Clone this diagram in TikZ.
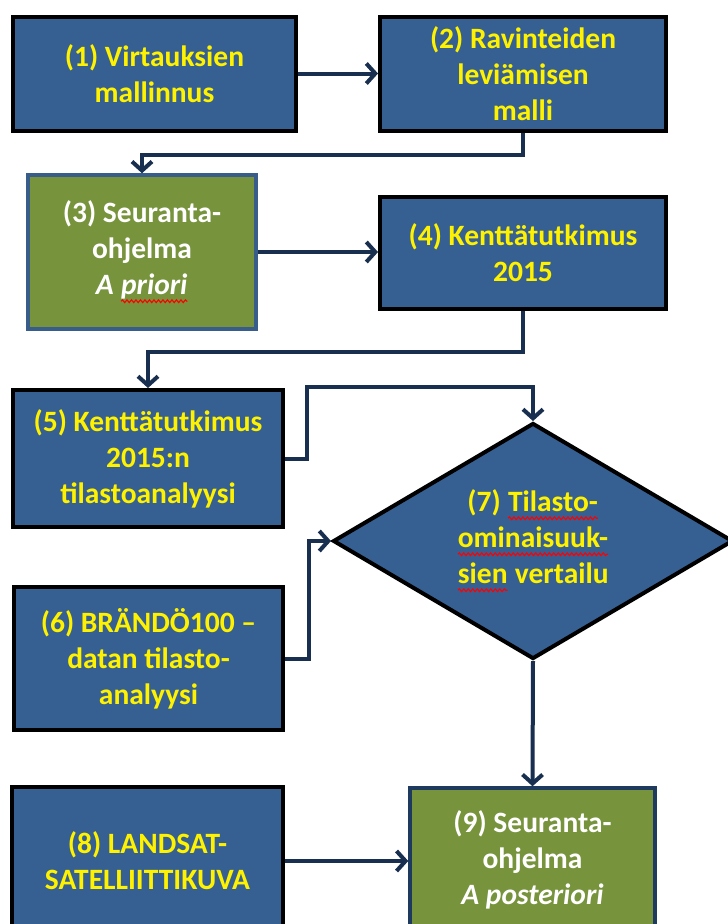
\documentclass[tikz,border=0pt]{standalone}
\usepackage{fontspec}
\setmainfont{Carlito}
\usetikzlibrary{shapes.geometric,arrows.meta,decorations.pathmorphing}
\definecolor{boxblue}{HTML}{376092}
\definecolor{boxgreen}{HTML}{77933C}
\definecolor{greenedge}{HTML}{385D8A}
\definecolor{greenedgeb}{HTML}{1F3A5F}
\definecolor{linknavy}{HTML}{182F50}
\newcommand\redwave[1]{\tikz[baseline=(wv.base)]{\node[rectangle,minimum width=0pt,minimum height=0pt,inner sep=0pt,outer sep=0pt,draw=none,fill=none,font=,align=left] (wv) {#1};
  \draw[red, line width=1.1pt, decorate, decoration={snake, amplitude=1.4pt, segment length=4.5pt}] ([yshift=-6.5pt]wv.base west) -- ([yshift=-6.5pt]wv.base east);}}
\begin{document}
\begin{tikzpicture}[x=1pt,y=-1pt,
  boxtext/.style={font=\bfseries\fontsize{29.5}{36}\selectfont, align=center, inner sep=0pt},
  bluebox/.style={boxtext, draw=black, line width=4pt, fill=boxblue, text=yellow},
  greenbox/.style={boxtext, draw=greenedge, line width=3.5pt, fill=boxgreen, text=white},
  link/.style={draw=linknavy, line width=4pt, -{Straight Barb[length=9pt,width=20pt]}}]
\useasboundingbox (0,0) rectangle (728,924);
\clip (0,0) rectangle (728,924);
\fill[white] (0,0) rectangle (728,924);

\node[bluebox, minimum width=283pt, minimum height=114pt] (b1) at (154.5,73.5) {(1) Virtauksien\\mallinnus};
\node[bluebox, minimum width=286pt, minimum height=114pt] (b2) at (523,73.5) {(2) Ravinteiden\\leviämisen\\malli};
\node[greenbox, minimum width=228pt, minimum height=154pt] (b3) at (142,252) {(3) Seuranta-\\ohjelma\\\textit{A \redwave{priori}}};
\node[bluebox, minimum width=286pt, minimum height=112pt] (b4) at (523,253) {(4) Kenttätutkimus\\2015};
\node[bluebox, minimum width=270pt, minimum height=137pt] (b5) at (148,458.5) {(5) Kenttätutkimus\\2015:n\\tilastoanalyysi};
\node[bluebox, minimum width=269pt, minimum height=143pt] (b6) at (148.5,658.5) {(6) BRÄNDÖ100 –\\datan tilasto-\\analyysi};
\node[bluebox, diamond, aspect=1.7, minimum width=400pt, minimum height=236pt] (b7) at (533,541) {(7) \redwave{Tilasto-}\\\redwave{ominaisuuk-}\\\redwave{sien} vertailu};
\node[bluebox, minimum width=271pt, minimum height=148pt] (b8) at (147.5,861) {(8) LANDSAT-\\SATELLIITTIKUVA};
\node[greenbox, draw=greenedgeb, minimum width=245pt, minimum height=144pt] (b9) at (532.5,860) {(9) Seuranta-\\ohjelma\\\textit{A posteriori}};

\coordinate (j57) at (307,387);
\draw[link] (b1.east) -- (b2.west);
\draw[link] (b2.south) -- ++(0,22) -| (b3.north);
\draw[link] (b3.east) -- (b3.east -| b4.west);
\draw[link] (b4.south) -- ++(0,41) -| (b5.north);
\draw[link] (b5.east) -| (j57) -- (j57 -| b7.north) -- (b7.north);
\draw[link] (b6.east) -- ++(24,0) |- (b7.west);
\draw[link] (b7.south) -- (b9.north);
\draw[link] (b8.east) -- (b8.east -| b9.west);
\end{tikzpicture}
\end{document}
